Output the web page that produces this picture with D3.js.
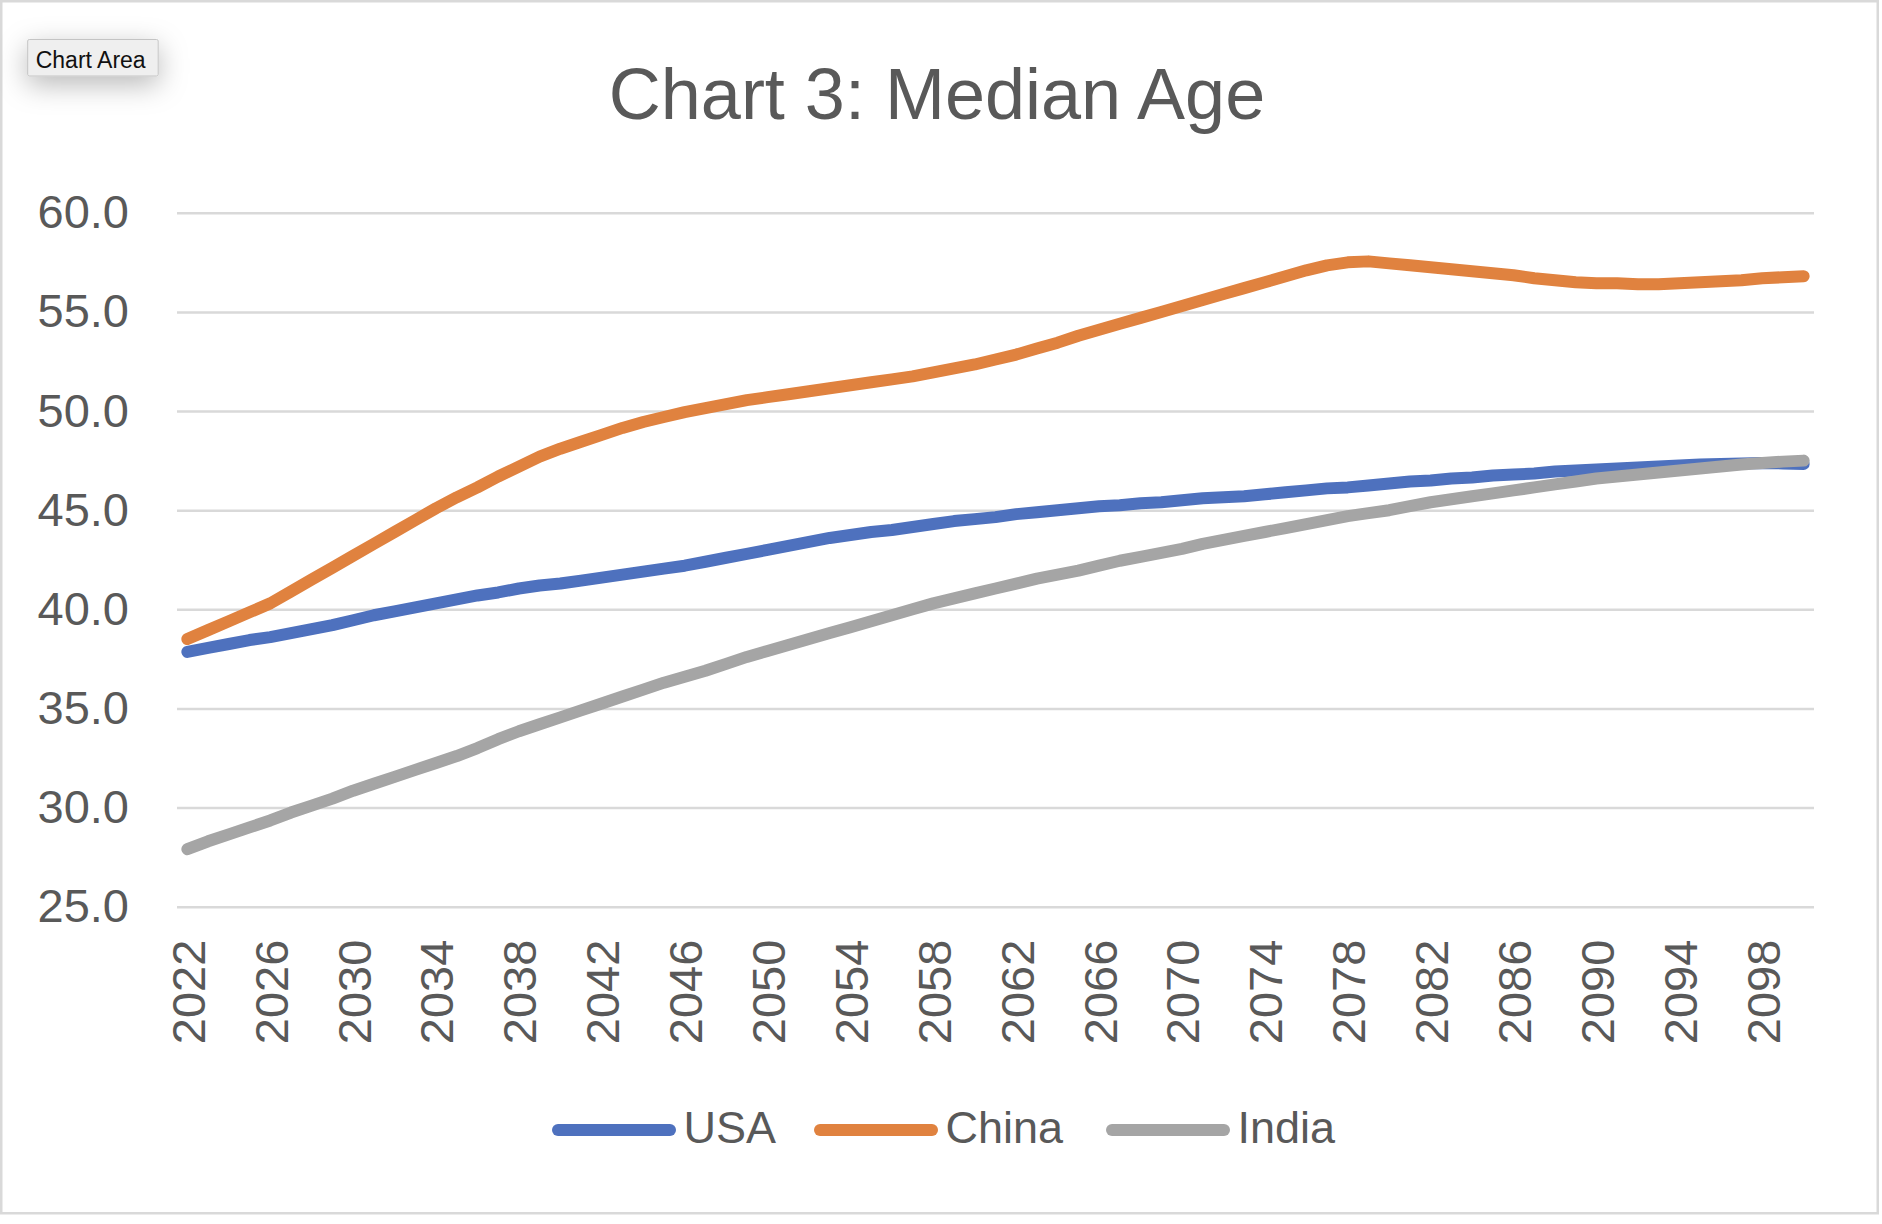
<!DOCTYPE html>
<html>
<head>
<meta charset="utf-8">
<script src="https://cdn.jsdelivr.net/npm/d3@7"></script>
<style>
  html, body { margin: 0; padding: 0; background: #ffffff; }
  svg { display: block; }
</style>
</head>
<body>
<svg id="chart" width="1882" height="1224"></svg>
<script>
// ---------------- DATA ----------------
const years = d3.range(2022, 2101);
const xTickLabels = ["2022","2026","2030","2034","2038","2042","2046","2050","2054","2058",
                     "2062","2066","2070","2074","2078","2082","2086","2090","2094","2098"];
const yTickValues = [25, 30, 35, 40, 45, 50, 55, 60];
const seriesNames = ["USA", "China", "India"];

const usa = [37.85,38.05,38.25,38.45,38.6,38.8,39.0,39.2,39.45,39.7,
             39.9,40.1,40.3,40.5,40.7,40.85,41.05,41.2,41.3,41.45,
             41.6,41.75,41.9,42.05,42.2,42.4,42.6,42.8,43.0,43.2,
             43.4,43.6,43.75,43.9,44.0,44.15,44.3,44.45,44.55,44.65,
             44.8,44.9,45.0,45.1,45.2,45.25,45.35,45.4,45.5,45.6,
             45.65,45.7,45.8,45.9,46.0,46.1,46.15,46.25,46.35,46.45,
             46.5,46.6,46.65,46.75,46.8,46.85,46.95,47.0,47.05,47.1,
             47.15,47.2,47.25,47.3,47.33,47.36,47.38,47.36,47.33];

const china = [38.5,38.95,39.4,39.85,40.3,40.9,41.5,42.1,42.7,43.3,
               43.9,44.5,45.1,45.65,46.15,46.7,47.2,47.7,48.1,48.45,
               48.8,49.15,49.45,49.7,49.95,50.15,50.35,50.55,50.7,50.85,
               51.0,51.15,51.3,51.45,51.6,51.75,51.95,52.15,52.35,52.6,
               52.85,53.15,53.45,53.8,54.1,54.4,54.7,55.0,55.3,55.6,
               55.9,56.2,56.5,56.8,57.1,57.35,57.5,57.55,57.45,57.35,
               57.25,57.15,57.05,56.95,56.85,56.7,56.6,56.5,56.45,56.45,
               56.4,56.4,56.45,56.5,56.55,56.6,56.7,56.75,56.8];

const india = [27.9,28.3,28.65,29.0,29.35,29.75,30.1,30.45,30.85,31.2,
               31.55,31.9,32.25,32.6,33.0,33.45,33.85,34.2,34.55,34.9,
               35.25,35.6,35.95,36.3,36.6,36.9,37.25,37.6,37.9,38.2,
               38.5,38.8,39.1,39.4,39.7,40.0,40.3,40.55,40.8,41.05,
               41.3,41.55,41.75,41.95,42.2,42.45,42.65,42.85,43.05,43.3,
               43.5,43.7,43.9,44.1,44.3,44.5,44.7,44.85,45.0,45.2,
               45.4,45.55,45.7,45.85,46.0,46.15,46.3,46.45,46.6,46.7,
               46.8,46.9,47.0,47.1,47.2,47.3,47.38,47.45,47.5];

const seriesColors = ["#4E71BE", "#E0823F", "#A5A5A5"];
const seriesValues = [usa, china, india];

// ---------------- LAYOUT ----------------
const W = 1882, H = 1224;
const plot = { left: 177, right: 1814, top: 212.8, bottom: 906.7 };
const FONT = "'Liberation Sans', Arial, sans-serif";
const TEXT = "#595959";

const svg = d3.select("#chart");

const defs = svg.append("defs");
const f = defs.append("filter").attr("id", "shadow")
  .attr("x", "-60%").attr("y", "-100%").attr("width", "220%").attr("height", "320%");
f.append("feDropShadow").attr("dx", 0).attr("dy", 8).attr("stdDeviation", 14)
  .attr("flood-color", "#000").attr("flood-opacity", 0.28);

// background + outer border
svg.append("rect").attr("x", 0).attr("y", 0).attr("width", W).attr("height", H).attr("fill", "#fff");
svg.append("rect").attr("x", 1.25).attr("y", 1.25).attr("width", 1876.5).attr("height", 1212)
  .attr("fill", "#fff").attr("stroke", "#d9d9d9").attr("stroke-width", 2.5);

// scales
const x = d3.scalePoint().domain(years.map(String)).range([plot.left, plot.right]).padding(0.5);
const y = d3.scaleLinear().domain([25, 60]).range([plot.bottom, plot.top]);

// y axis with gridlines
const yAxis = d3.axisLeft(y).tickValues(yTickValues).tickFormat(d3.format(".1f"))
  .tickSize(-(plot.right - plot.left)).tickPadding(48);
const gy = svg.append("g").attr("transform", `translate(${plot.left},0)`).call(yAxis);
gy.select(".domain").remove();
gy.selectAll(".tick line").attr("stroke", "#d9d9d9").attr("stroke-width", 2.6);
gy.selectAll(".tick text").attr("fill", TEXT).attr("font-family", FONT).attr("font-size", 47)
  .attr("dy", "0.32em");

// x axis (labels only)
const xAxis = d3.axisBottom(x).tickValues(xTickLabels).tickSize(0);
const gx = svg.append("g").attr("transform", `translate(0,${plot.bottom})`).call(xAxis);
gx.select(".domain").remove();
gx.selectAll(".tick text")
  .attr("fill", TEXT).attr("font-family", FONT).attr("font-size", 47)
  .attr("transform", "rotate(-90)")
  .attr("text-anchor", "end")
  .attr("x", -33).attr("y", 0).attr("dy", "0.36em");

// lines
const line = d3.line()
  .x((d, i) => x(String(years[i])))
  .y(d => y(d));

seriesValues.forEach((vals, k) => {
  svg.append("path").datum(vals)
    .attr("d", line)
    .attr("fill", "none")
    .attr("stroke", seriesColors[k])
    .attr("stroke-width", 12)
    .attr("stroke-linecap", "round")
    .attr("stroke-linejoin", "round");
});

// title
svg.append("text").attr("x", 937).attr("y", 119)
  .attr("text-anchor", "middle").attr("font-family", FONT).attr("font-size", 72)
  .attr("fill", TEXT).text("Chart 3: Median Age");

// legend (item start positions as in the reference layout)
const legendY = 1130;
const legendStarts = [552, 814, 1106];
const lineLen = 112; // path length (round caps add 6 each side)
const lg = svg.append("g");
seriesNames.forEach((name, k) => {
  const sx = legendStarts[k];
  lg.append("line").attr("x1", sx + 6).attr("x2", sx + 6 + lineLen)
    .attr("y1", legendY).attr("y2", legendY)
    .attr("stroke", seriesColors[k]).attr("stroke-width", 12).attr("stroke-linecap", "round");
  lg.append("text").attr("x", sx + 131.5).attr("y", 1143.3)
    .attr("font-family", FONT).attr("font-size", 45).attr("fill", TEXT).text(name);
});

// "Chart Area" tooltip
const tip = svg.append("g");
tip.append("rect").attr("x", 27.7).attr("y", 39.5).attr("width", 130.5).attr("height", 36.5)
  .attr("rx", 1.5).attr("fill", "#efefef").attr("stroke", "#c4c4c4").attr("stroke-width", 1)
  .attr("filter", "url(#shadow)");
tip.append("text").attr("x", 35.7).attr("y", 68.3)
  .attr("font-family", FONT).attr("font-size", 23).attr("fill", "#111").text("Chart Area");
</script>
</body>
</html>
